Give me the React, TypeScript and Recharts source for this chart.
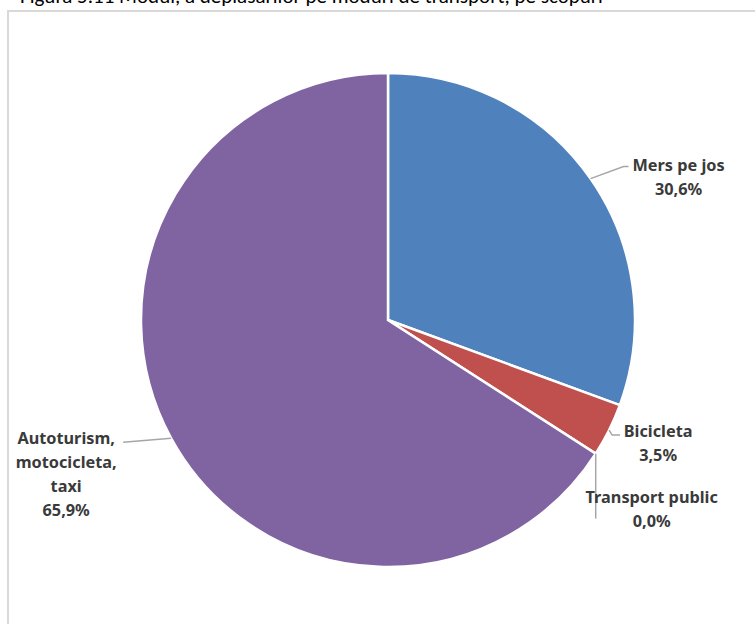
import { PieChart, Pie, Cell } from "recharts";

const categories = ["Mers pe jos", "Bicicleta", "Transport public", "Autoturism, motocicleta, taxi"];
const shares = [30.6, 3.5, 0.0, 65.9];
const colors = ["#4F81BD", "#C0504D", "#8064A2", "#8064A2"];

const data = categories.map((name, i) => ({ name, value: shares[i] }));

// leader line + text placement relative to the point on the pie edge
const labelLayout = [
  { line: [[33, -12], [38, -12]], text: [88, -8], wrap: false },
  { line: [[3, 5], [11, 5]], text: [49, 7], wrap: false },
  { line: [[0, 65]], text: [56, 49], wrap: false },
  { line: [[-48, 4]], text: [-105, 6], wrap: true },
];

const RAD = Math.PI / 180;
const FONT = "'Noto Sans', 'Open Sans', sans-serif";

const renderLabel = (props: any) => {
  const { cx, cy, midAngle, outerRadius, index, name, value } = props;
  const lay = labelLayout[index];
  const ax = cx + outerRadius * Math.cos(-midAngle * RAD);
  const ay = cy + outerRadius * Math.sin(-midAngle * RAD);
  const pts = [[ax, ay], ...lay.line.map(([dx, dy]) => [ax + dx, ay + dy])];
  const lines = lay.wrap ? name.split(" ") : [name];
  lines.push(value.toFixed(1).replace(".", ",") + "%");
  return (
    <g key={`lbl-${index}`}>
      <polyline
        points={pts.map((p) => p.join(",")).join(" ")}
        fill="none"
        stroke="#A6A6A6"
        strokeWidth={1.5}
      />
      {lines.map((t: string, i: number) => (
        <text
          key={i}
          x={ax + lay.text[0]}
          y={ay + lay.text[1] + i * 24}
          textAnchor="middle"
          fill="#3A3A3A"
          fontFamily={FONT}
          fontWeight="bold"
          fontSize={16.3}
        >
          {t}
        </text>
      ))}
    </g>
  );
};

const App = () => (
  <div style={{ position: "absolute", left: 0, top: 0, width: 755, height: 624, overflow: "hidden", background: "#fff" }}>
    <svg width={755} height={20} style={{ position: "absolute", left: 0, top: 0 }}>
      <text x={20} y={3} fontFamily="Carlito, 'Liberation Sans', sans-serif" fontSize={21} fill="#000">
        Figura 5.11 Modul, a deplasărilor pe moduri de transport, pe scopuri
      </text>
    </svg>
    <div
      style={{
        position: "absolute",
        left: 7,
        top: 10,
        width: 800,
        height: 700,
        border: "2px solid #D9D9D9",
      }}
    />
    <div style={{ position: "absolute", left: 0, top: 0 }}>
      <PieChart width={755} height={624} margin={{ top: 0, right: 0, bottom: 0, left: 0 }}>
        <Pie
          data={data}
          dataKey="value"
          nameKey="name"
          cx={388}
          cy={320}
          outerRadius={247}
          startAngle={90}
          endAngle={-270}
          stroke="#fff"
          strokeWidth={2.5}
          label={renderLabel}
          labelLine={false}
          isAnimationActive={false}
        >
          {data.map((d, i) => (
            <Cell key={d.name} fill={colors[i]} />
          ))}
        </Pie>
      </PieChart>
    </div>
  </div>
);

export default App;
